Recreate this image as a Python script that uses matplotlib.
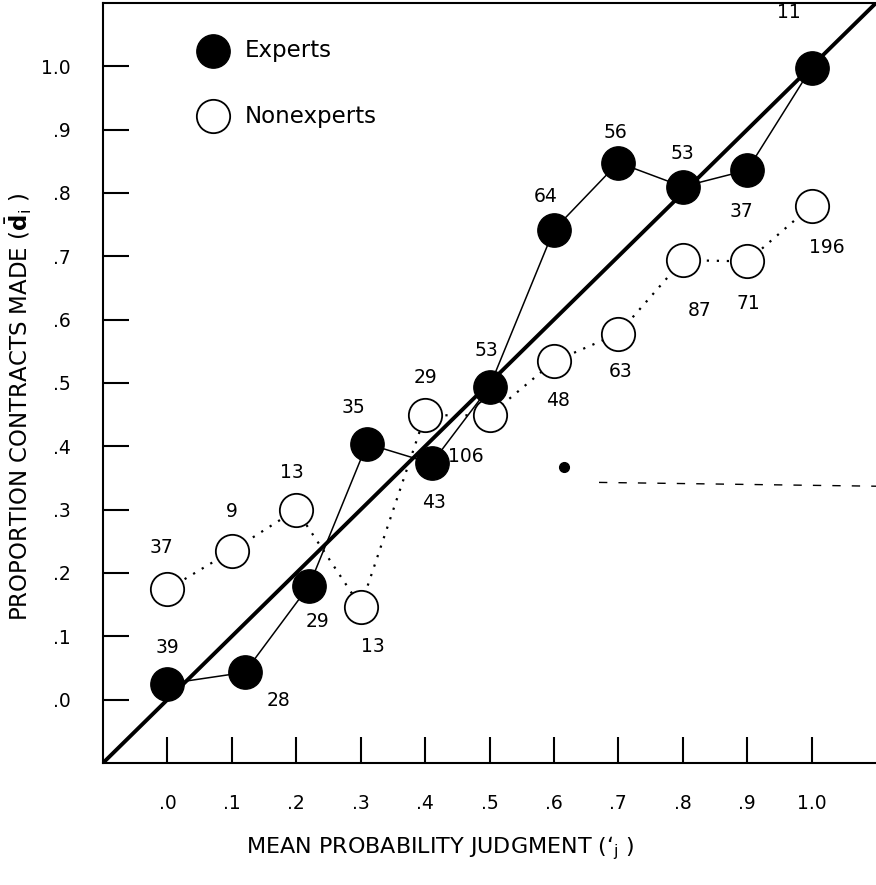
import matplotlib.pyplot as plt

plt.rcParams["font.family"] = ["DejaVu Sans"]

# ── Data ──────────────────────────────────────────────────────────────────────
expert_x = [0.00, 0.12, 0.22, 0.31, 0.41, 0.50, 0.60, 0.70, 0.80, 0.90, 1.00]
expert_y = [0.025, 0.043, 0.18, 0.404, 0.373, 0.494, 0.742, 0.848, 0.81, 0.836, 0.998]
expert_n = ["39", "28", "29", "35", "43", "53", "64", "56", "53", "37", "11"]

novice_x = [0.00, 0.10, 0.20, 0.30, 0.40, 0.50, 0.60, 0.70, 0.80, 0.90, 1.00]
novice_y = [0.174, 0.235, 0.30, 0.147, 0.449, 0.449, 0.534, 0.578, 0.694, 0.692, 0.78]
novice_n = ["37", "9", "13", "13", "29", "106", "48", "63", "87", "71", "196"]

tick_vals = [0.0, 0.1, 0.2, 0.3, 0.4, 0.5, 0.6, 0.7, 0.8, 0.9, 1.0]
tick_labels = [".0", ".1", ".2", ".3", ".4", ".5", ".6", ".7", ".8", ".9", "1.0"]

# label offsets in points (dx, dy) relative to each marker
expert_off = [(0, 26), (24, -20), (6, -26), (-10, 26), (2, -28), (-2, 26),
              (-6, 24), (-2, 22), (0, 24), (-4, -30), (-16, 40)]
novice_off = [(-4, 30), (0, 28), (-3, 27), (9, -29), (0, 27), (-17, -30),
              (3, -28), (2, -27), (12, -36), (1, -30), (11, -30)]

# ── Plot ──────────────────────────────────────────────────────────────────────
fig = plt.figure(figsize=(8.76, 8.85), dpi=100)
ax = fig.add_axes([0.1176, 0.1379, 0.8824, 0.8587])
ax.set_xlim(-0.1, 1.1)
ax.set_ylim(-0.1, 1.1)

# perfect calibration diagonal
ax.plot([-0.1, 1.1], [-0.1, 1.1], color="black", lw=2.8, zorder=2)

ax.plot(novice_x, novice_y, color="black", lw=1.6, ls=(0, (1, 3.5)), zorder=3)
ax.plot(novice_x, novice_y, "o", ms=24, mfc="white", mec="black", mew=1.3, zorder=4)
ax.plot(expert_x, expert_y, color="black", lw=1.1, zorder=5)
ax.plot(expert_x, expert_y, "o", ms=24, mfc="black", mec="black", zorder=6)

for x, y, s, (dx, dy) in zip(expert_x, expert_y, expert_n, expert_off):
    ax.annotate(s, (x, y), xytext=(dx, dy), textcoords="offset points",
                ha="center", va="center", fontsize=13.5)
for x, y, s, (dx, dy) in zip(novice_x, novice_y, novice_n, novice_off):
    ax.annotate(s, (x, y), xytext=(dx, dy), textcoords="offset points",
                ha="center", va="center", fontsize=13.5)

# scan artefacts: stray dot and broken dashed rule
ax.plot([0.615], [0.368], "o", ms=7, color="black")
ax.plot([0.67, 1.1], [0.343, 0.337], color="black", lw=1.0, ls=(0, (6, 8)))

# legend drawn by hand, as in the figure
ax.plot([0.07], [1.025], "o", ms=24, mfc="black", mec="black", clip_on=False)
ax.plot([0.07], [0.921], "o", ms=24, mfc="white", mec="black", mew=1.3)
ax.text(0.12, 1.025, "Experts", fontsize=16.5, va="center")
ax.text(0.12, 0.921, "Nonexperts", fontsize=16.5, va="center")

ax.set_xticks(tick_vals)
ax.set_xticklabels(tick_labels)
ax.set_yticks(tick_vals)
ax.set_yticklabels(tick_labels)
ax.tick_params(direction="in", length=19, width=1.5, labelsize=13.5)
ax.tick_params(axis="x", pad=22)
ax.tick_params(axis="y", pad=23)

for side in ["left", "bottom", "top"]:
    ax.spines[side].set_linewidth(1.5)
ax.spines["right"].set_visible(False)

fig.text(0.021, 0.54, r"PROPORTION CONTRACTS MADE ($\bar{\mathbf{d}}_{\mathrm{i}}$ )",
         rotation=90, ha="center", va="center", fontsize=16.5)
fig.text(0.503, 0.042, "MEAN PROBABILITY JUDGMENT (\u2018$_{\\mathrm{j}}$ )",
         ha="center", va="center", fontsize=16)

fig.savefig("out.png", dpi=100)
